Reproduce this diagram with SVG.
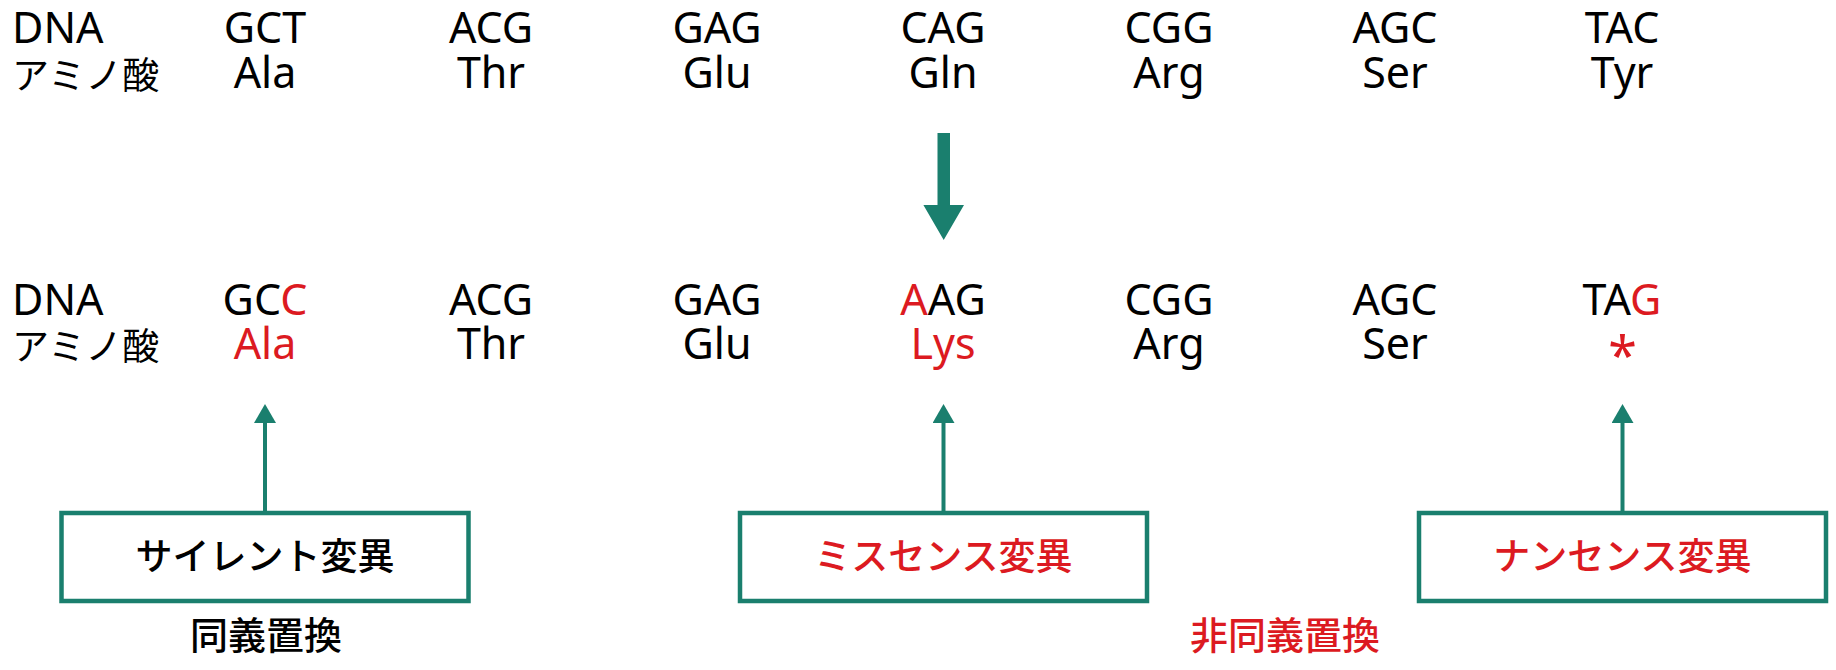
<svg xmlns="http://www.w3.org/2000/svg" width="1836" height="670" viewBox="0 0 1836 670">
<style>
.lat{font-family:"Noto Sans","Liberation Sans",sans-serif;font-size:43px;fill:#000;text-anchor:middle}
.jp{font-family:"Noto Sans CJK JP","Noto Sans",sans-serif;font-size:37px;fill:#000}
.jpc{font-family:"Noto Sans CJK JP","Noto Sans",sans-serif;font-size:37px;text-anchor:middle;font-weight:500}
.cat{font-family:"Noto Sans CJK JP","Noto Sans",sans-serif;font-size:38px;text-anchor:middle;font-weight:500}
.red{fill:#dc1a21}
.blk{fill:#000}
.box{fill:#fff;stroke:#1a7f6e;stroke-width:4.5}
.conn{stroke:#1a7f6e;stroke-width:4;fill:none}
</style>
<defs>
<marker id="head" markerUnits="userSpaceOnUse" markerWidth="20" markerHeight="22" refX="0" refY="11" orient="auto" viewBox="0 0 20 22">
<path d="M0,0 L19,11 L0,22 Z" fill="#1a7f6e"/>
</marker>
</defs>
<rect width="1836" height="670" fill="#fff"/>

<g id="original">
<text class="lat" x="12" y="43" style="text-anchor:start">DNA</text>
<text class="jp" x="12" y="89">アミノ酸</text>
<text class="lat" x="265" y="43">GCT</text><text class="lat" x="265" y="88">Ala</text>
<text class="lat" x="491" y="43">ACG</text><text class="lat" x="491" y="88">Thr</text>
<text class="lat" x="717" y="43">GAG</text><text class="lat" x="717" y="88">Glu</text>
<text class="lat" x="943" y="43">CAG</text><text class="lat" x="943" y="88">Gln</text>
<text class="lat" x="1169" y="43">CGG</text><text class="lat" x="1169" y="88">Arg</text>
<text class="lat" x="1395" y="43">AGC</text><text class="lat" x="1395" y="88">Ser</text>
<text class="lat" x="1622" y="43">TAC</text><text class="lat" x="1622" y="88">Tyr</text>
</g>

<g id="mutated">
<text class="lat" x="12" y="315" style="text-anchor:start">DNA</text>
<text class="jp" x="12" y="360">アミノ酸</text>
<text class="lat" x="265" y="315">GC<tspan class="red">C</tspan></text><text class="lat red" x="265" y="359">Ala</text>
<text class="lat" x="491" y="315">ACG</text><text class="lat" x="491" y="359">Thr</text>
<text class="lat" x="717" y="315">GAG</text><text class="lat" x="717" y="359">Glu</text>
<text class="lat" x="943" y="315"><tspan class="red">A</tspan>AG</text><text class="lat red" x="943" y="359">Lys</text>
<text class="lat" x="1169" y="315">CGG</text><text class="lat" x="1169" y="359">Arg</text>
<text class="lat" x="1395" y="315">AGC</text><text class="lat" x="1395" y="359">Ser</text>
<text class="lat" x="1622" y="315">TA<tspan class="red">G</tspan></text>
<text class="lat red" x="1622.5" y="374" style="font-size:52px">*</text>
</g>

<g id="connectors">
<polygon points="937.5,133 950,133 950,205 964,205 943.7,240 923.4,205 937.5,205" fill="#1a7f6e"/>
<line class="conn" x1="265" y1="511" x2="265" y2="423" marker-end="url(#head)"/>
<line class="conn" x1="943.5" y1="511" x2="943.5" y2="423" marker-end="url(#head)"/>
<line class="conn" x1="1622.5" y1="511" x2="1622.5" y2="423" marker-end="url(#head)"/>
</g>

<g id="silent">
<rect class="box" x="61.5" y="513" width="407" height="88"/>
<text class="jpc blk" x="265" y="570">サイレント変異</text>
</g>
<g id="missense">
<rect class="box" x="740" y="513" width="407" height="88"/>
<text class="jpc red" x="943.5" y="570">ミスセンス変異</text>
</g>
<g id="nonsense">
<rect class="box" x="1419" y="513" width="407" height="88"/>
<text class="jpc red" x="1622.5" y="570">ナンセンス変異</text>
</g>

<g id="synonymous">
<text class="cat blk" x="266" y="649">同義置換</text>
</g>
<g id="nonsynonymous">
<text class="cat red" x="1285" y="649">非同義置換</text>
</g>
</svg>
